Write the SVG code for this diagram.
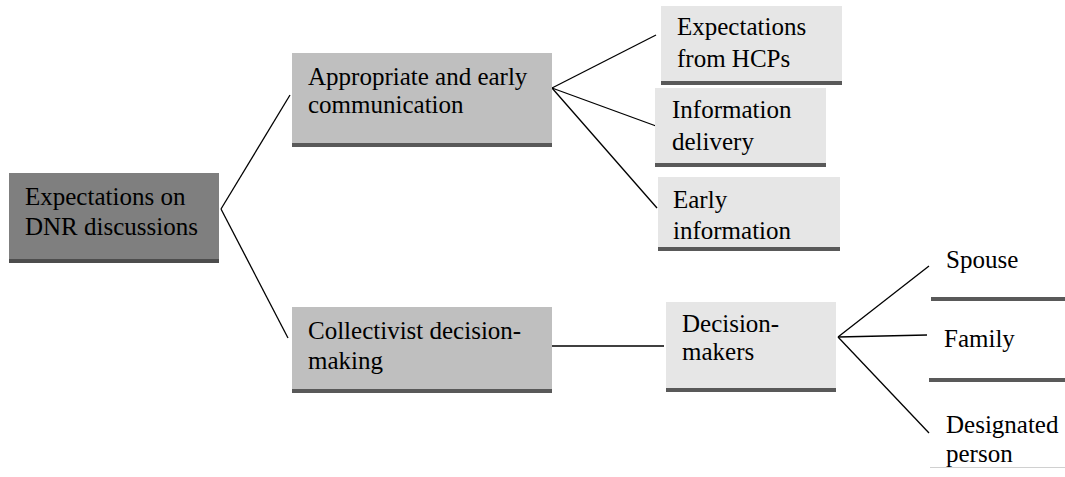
<svg xmlns="http://www.w3.org/2000/svg" width="1065" height="477" viewBox="0 0 1065 477" font-family="'Liberation Serif', 'DejaVu Serif', serif" font-size="25">
<style>
text{font-family:'Liberation Serif','DejaVu Serif',serif;font-size:25px;fill:#000}
.bar{fill:#595959}
.dk{fill:#7f7f7f}
.md{fill:#bfbfbf}
.lt{fill:#e6e6e6}
.conn line{stroke:#000;stroke-width:1.3}
</style>
<rect width="1065" height="477" fill="#fff"/>
<g id="connectors" class="conn">
<line x1="221" y1="209" x2="290" y2="95"/>
<line x1="221" y1="209" x2="288" y2="338"/>
<line x1="552" y1="88" x2="656" y2="35"/>
<line x1="552" y1="88" x2="656" y2="126"/>
<line x1="552" y1="88" x2="657" y2="208"/>
<line x1="552" y1="346" x2="664" y2="346"/>
<line x1="838" y1="337" x2="929" y2="266"/>
<line x1="838" y1="337" x2="927" y2="335"/>
<line x1="838" y1="337" x2="929" y2="433"/>
</g>
<g id="root">
<rect class="dk" x="9" y="173" width="210" height="90"/>
<rect fill="#4d4d4d" x="9" y="259" width="210" height="4"/>
<text x="25" y="205">Expectations on</text>
<text x="25" y="235">DNR discussions</text>
</g>
<g id="appropriate">
<rect class="md" x="292" y="53" width="260" height="94"/>
<rect class="bar" x="292" y="143" width="260" height="4"/>
<text x="308" y="85">Appropriate and early</text>
<text x="308" y="113">communication</text>
</g>
<g id="collectivist">
<rect class="md" x="292" y="307" width="260" height="86"/>
<rect class="bar" x="292" y="389" width="260" height="4"/>
<text x="308" y="339">Collectivist decision-</text>
<text x="308" y="369">making</text>
</g>
<g id="hcps">
<rect class="lt" x="661" y="6" width="181" height="79"/>
<rect class="bar" x="661" y="81" width="181" height="4"/>
<text x="677" y="35">Expectations</text>
<text x="677" y="67">from HCPs</text>
</g>
<g id="delivery">
<rect class="lt" x="655" y="88" width="171" height="79"/>
<rect class="bar" x="655" y="163" width="171" height="4"/>
<text x="672" y="118">Information</text>
<text x="672" y="150">delivery</text>
</g>
<g id="early">
<rect class="lt" x="658" y="177" width="182" height="74"/>
<rect class="bar" x="658" y="247" width="182" height="4"/>
<text x="673" y="208">Early</text>
<text x="673" y="239">information</text>
</g>
<g id="decision">
<rect class="lt" x="666" y="302" width="170" height="90"/>
<rect class="bar" x="666" y="388" width="170" height="4"/>
<text x="682" y="332">Decision-</text>
<text x="682" y="360">makers</text>
</g>
<g id="spouse">
<text x="946" y="268">Spouse</text>
<rect class="bar" x="931" y="297" width="134" height="4"/>
</g>
<g id="family">
<text x="944" y="347">Family</text>
<rect class="bar" x="929" y="378" width="136" height="4"/>
</g>
<g id="designated">
<text x="946" y="433">Designated</text>
<text x="946" y="462">person</text>
<rect fill="#d0d0d0" x="930" y="467" width="135" height="1"/>
</g>
</svg>
